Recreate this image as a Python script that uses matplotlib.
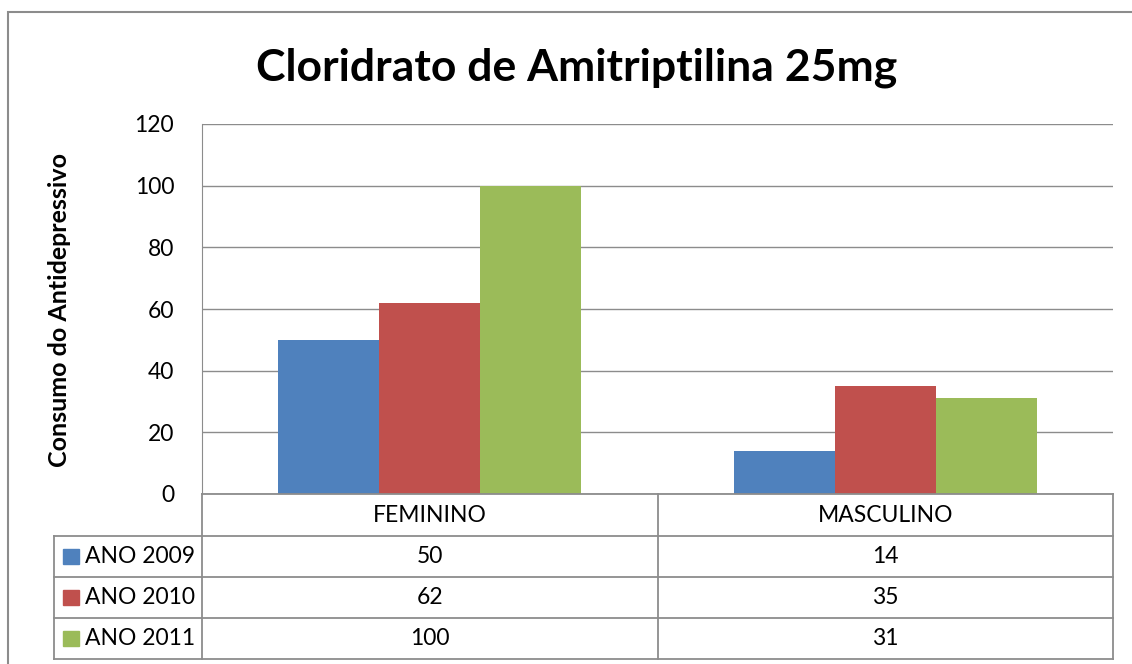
import matplotlib.pyplot as plt
from matplotlib.patches import Rectangle
from matplotlib.lines import Line2D
import numpy as np

plt.rcParams['font.family'] = ['Lato', 'DejaVu Sans']

# dados
categorias = ['FEMININO', 'MASCULINO']
series = ['ANO 2009', 'ANO 2010', 'ANO 2011']
valores_2009 = [50, 14]
valores_2010 = [62, 35]
valores_2011 = [100, 31]
cores = ['#4F81BD', '#C0504D', '#9BBB59']
yticks = [0, 20, 40, 60, 80, 100, 120]

W, H = 1132, 664
fig = plt.figure(figsize=(W / 100, H / 100), dpi=100)

def fx(px):
    return px / W

def fy(py):
    return 1 - py / H

cinza = '#8c8c8c'
fs = 16.5

# area do grafico
x0, x1, ytop, ybot = 202, 1113, 124, 494
ax = fig.add_axes([fx(x0), fy(ybot), fx(x1 - x0), (ybot - ytop) / H])

valores = [valores_2009, valores_2010, valores_2011]
x = np.arange(len(categorias))
larg = 0.222
for i, (v, c) in enumerate(zip(valores, cores)):
    ax.bar(x + (i - 1) * larg, v, larg, color=c, zorder=3)

ax.set_xlim(-0.5, 1.5)
ax.set_ylim(0, 120)
ax.set_yticks(yticks)
ax.set_yticklabels([str(t) for t in yticks], fontsize=fs)
ax.tick_params(axis='y', length=0, pad=20)
ax.set_xticks([])
ax.grid(axis='y', color=cinza, lw=1, zorder=0)
for s in ['top', 'right', 'bottom']:
    ax.spines[s].set_visible(False)
ax.spines['left'].set_color(cinza)
fig.text(fx(60), fy(310), 'Consumo do Antidepressivo', fontsize=18, fontweight='bold',
         rotation=90, ha='center', va='center')

fig.text(fx(577), fy(68), 'Cloridrato de Amitriptilina 25mg', fontsize=32,
         fontweight='bold', ha='center', va='center')

# tabela de dados
linhas_y = [494, 536, 577, 618, 659]
xm = (x0 + x1) / 2
xl = 54

def linha(xa, ya, xb, yb):
    fig.add_artist(Line2D([fx(xa), fx(xb)], [fy(ya), fy(yb)], color=cinza, lw=1.3))

linha(x0, linhas_y[0], x1, linhas_y[0])
for yy in linhas_y[1:]:
    linha(xl, yy, x1, yy)
linha(x0, linhas_y[0], x0, linhas_y[-1])
linha(xm, linhas_y[0], xm, linhas_y[-1])
linha(x1, linhas_y[0], x1, linhas_y[-1])
linha(xl, linhas_y[1], xl, linhas_y[-1])

centros = [(x0 + xm) / 2, (xm + x1) / 2]
ymeio = (linhas_y[0] + linhas_y[1]) / 2
for cx, cat in zip(centros, categorias):
    fig.text(fx(cx), fy(ymeio), cat, fontsize=fs, ha='center', va='center')

for r, (nome, v, c) in enumerate(zip(series, valores, cores)):
    yc = (linhas_y[r + 1] + linhas_y[r + 2]) / 2
    fig.add_artist(Rectangle((fx(63), fy(yc + 7)), fx(16), 15 / H, color=c))
    fig.text(fx(85), fy(yc), nome, fontsize=fs, ha='left', va='center')
    for cx, val in zip(centros, v):
        fig.text(fx(cx), fy(yc), str(val), fontsize=fs, ha='center', va='center')

# borda externa
fig.add_artist(Rectangle((fx(8), fy(700)), fx(1200), 688 / H, fill=False,
                         edgecolor=cinza, lw=1.5))

fig.savefig('out.png', dpi=100)
